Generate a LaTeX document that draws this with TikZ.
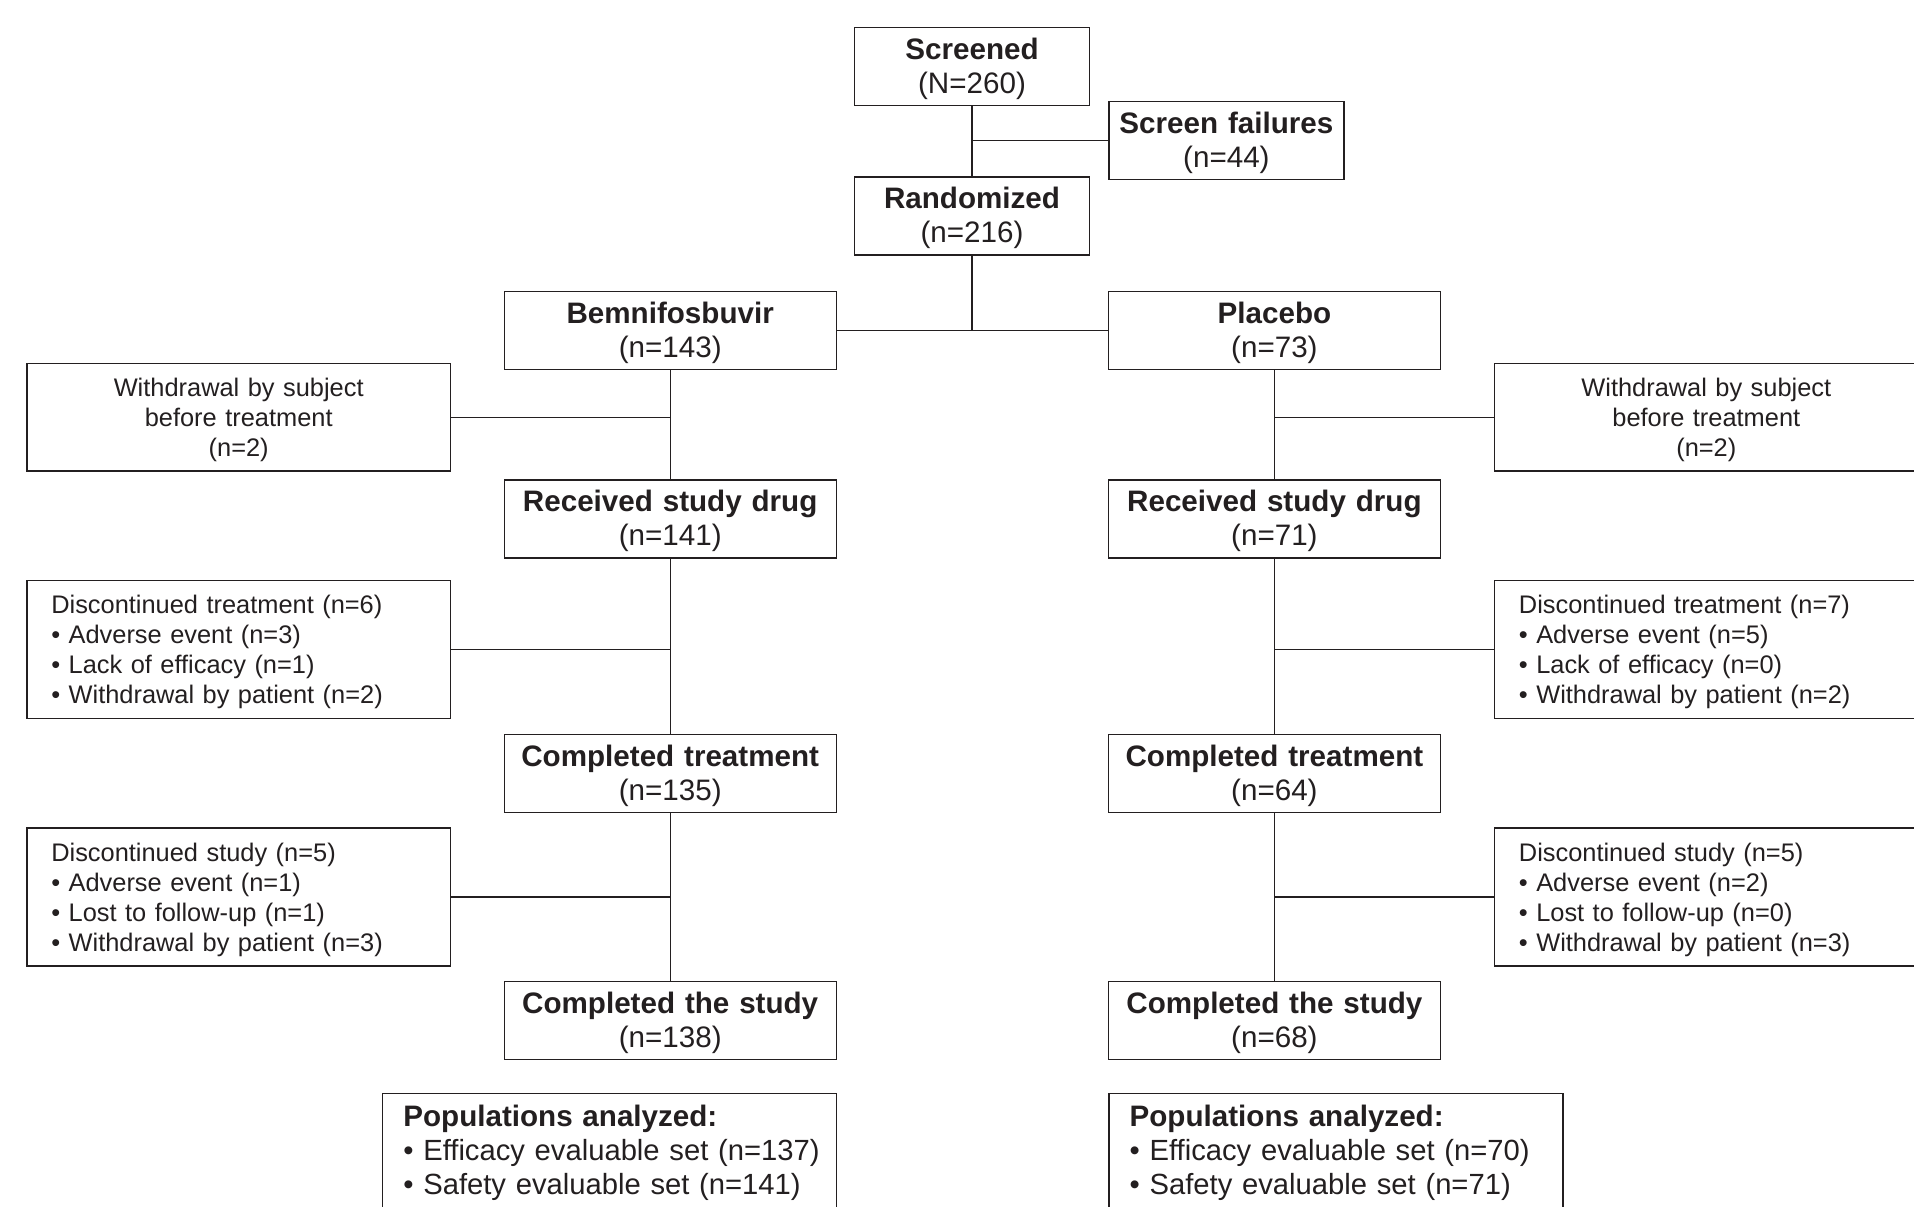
\documentclass[tikz,border=0pt]{standalone}
\usepackage{fontspec}
\setmainfont{Liberation Sans}
\usepackage{tikz}
\definecolor{ink}{RGB}{35,31,32}

\begin{document}
\begin{tikzpicture}[
  x=0.5pt, y=-0.5pt,
  every node/.style = {text=ink},
  block/.style = {draw=ink, line width=0.65pt, text width=162pt, minimum height=39pt, inner sep=2pt, align=center, font=\fontsize{14.8}{17}\selectfont, execute at begin node={\rule{0pt}{13pt}}},
  smallblock/.style = {block, text width=113.5pt},
  sidebox/.style = {draw=ink, line width=0.65pt, minimum height=53.85pt, text width=199pt, inner xsep=6.35pt, align=center, font=\fontsize{12.7}{15}\selectfont, execute at begin node={\rule{0pt}{12pt}}},
  listbox/.style = {sidebox, minimum height=69pt, text width=187.4pt, inner xsep=12.15pt, align=left},
  popbox/.style = {draw=ink, line width=0.65pt, anchor=north west, text width=206.4pt, inner xsep=10.3pt, inner ysep=6pt, align=left, font=\fontsize{14.6}{16.8}\selectfont},
  link/.style = {draw=ink, line width=0.65pt}
]
\useasboundingbox (0,0) rectangle (1914,1206);
\clip (0,0) rectangle (1914,1206);

% Screening and randomization
\node[smallblock] (screened) at (972,66.3) {{\bfseries Screened}\\(N=260)};
\node[smallblock] (scrfail) at (1226.4,140.8) {{\bfseries Screen failures}\\(n=44)};
\node[smallblock] (random) at (972,216) {{\bfseries Randomized}\\(n=216)};

% Treatment arms
\node[block] (bemni) at (670.2,330.5) {{\bfseries Bemnifosbuvir}\\(n=143)};
\node[block] (placebo) at (1274.4,330.5) {{\bfseries Placebo}\\(n=73)};

% Withdrawal before treatment
\node[sidebox] (wdbemni) at (238.7,417.2) {Withdrawal by subject\\before treatment\\(n=2)};
\node[sidebox] (wdplac) at (1706.3,417.2) {Withdrawal by subject\\before treatment\\(n=2)};

% Received study drug
\node[block] (rxbemni) at (670.2,519) {{\bfseries Received study drug}\\(n=141)};
\node[block] (rxplac) at (1274.4,519) {{\bfseries Received study drug}\\(n=71)};

% Discontinued treatment
\node[listbox] (dctbemni) at (238.7,649.3) {Discontinued treatment (n=6)\\• Adverse event (n=3)\\• Lack of efficacy (n=1)\\• Withdrawal by patient (n=2)};
\node[listbox] (dctplac) at (1706.3,649.3) {Discontinued treatment (n=7)\\• Adverse event (n=5)\\• Lack of efficacy (n=0)\\• Withdrawal by patient (n=2)};

% Completed treatment
\node[block] (ctbemni) at (670.2,773.8) {{\bfseries Completed treatment}\\(n=135)};
\node[block] (ctplac) at (1274.4,773.8) {{\bfseries Completed treatment}\\(n=64)};

% Discontinued study
\node[listbox] (dcsbemni) at (238.7,897) {Discontinued study (n=5)\\• Adverse event (n=1)\\• Lost to follow-up (n=1)\\• Withdrawal by patient (n=3)};
\node[listbox] (dcsplac) at (1706.3,897) {Discontinued study (n=5)\\• Adverse event (n=2)\\• Lost to follow-up (n=0)\\• Withdrawal by patient (n=3)};

% Completed the study
\node[block] (csbemni) at (670.2,1020.7) {{\bfseries Completed the study}\\(n=138)};
\node[block] (csplac) at (1274.4,1020.7) {{\bfseries Completed the study}\\(n=68)};

% Populations analyzed
\node[popbox] (popbemni) at (382.1,1092.7) {{\fontsize{14.8}{16.8}\selectfont\bfseries Populations analyzed:}\\\mbox{• Efficacy evaluable set (n=137)}\\\mbox{• Safety evaluable set (n=141)}\rule[-20pt]{0pt}{1pt}};
\node[popbox] (popplac) at (1108.4,1092.7) {{\fontsize{14.8}{16.8}\selectfont\bfseries Populations analyzed:}\\\mbox{• Efficacy evaluable set (n=70)}\\\mbox{• Safety evaluable set (n=71)}\rule[-20pt]{0pt}{1pt}};

% Trunk
\draw[link] (screened) -- (random);
\draw[link] (scrfail.west) -- (scrfail.west -| screened.south);
\draw[link] (random.south) -- (random.south |- bemni.east);
\draw[link] (bemni.east) -- (placebo.west);

% Bemnifosbuvir arm
\draw[link] (bemni) -- (rxbemni);
\draw[link] (rxbemni) -- (ctbemni);
\draw[link] (ctbemni) -- (csbemni);
\draw[link] (wdbemni.east) -- (wdbemni.east -| bemni.south);
\draw[link] (dctbemni.east) -- (dctbemni.east -| rxbemni.south);
\draw[link] (dcsbemni.east) -- (dcsbemni.east -| ctbemni.south);

% Placebo arm
\draw[link] (placebo) -- (rxplac);
\draw[link] (rxplac) -- (ctplac);
\draw[link] (ctplac) -- (csplac);
\draw[link] (wdplac.west) -- (wdplac.west -| placebo.south);
\draw[link] (dctplac.west) -- (dctplac.west -| rxplac.south);
\draw[link] (dcsplac.west) -- (dcsplac.west -| ctplac.south);

\end{tikzpicture}
\end{document}
